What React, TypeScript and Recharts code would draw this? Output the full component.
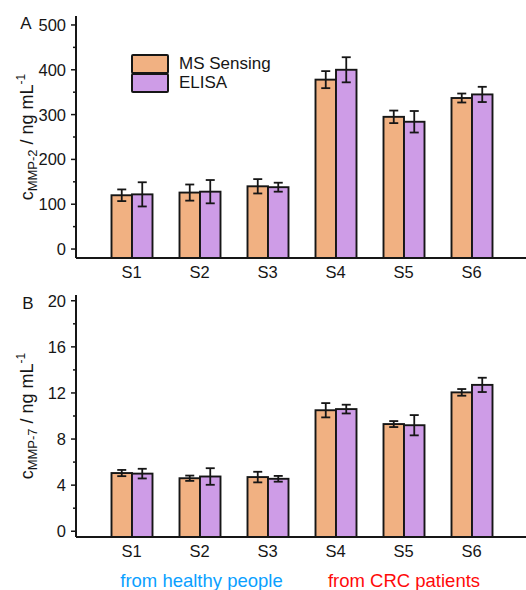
import React from 'react';
import { BarChart, Bar, XAxis, YAxis, ErrorBar, Legend } from 'recharts';

// ---------- data ----------
const categories = ['S1', 'S2', 'S3', 'S4', 'S5', 'S6'];
const seriesNames = ['MS Sensing', 'ELISA'];

const mmp2Ms = [120, 126, 140, 378, 295, 337];
const mmp2MsErr = [13, 18, 16, 19, 14, 10];
const mmp2Elisa = [122, 128, 138, 400, 284, 345];
const mmp2ElisaErr = [27, 26, 10, 28, 24, 17];

const mmp7Ms = [5.05, 4.6, 4.7, 10.5, 9.3, 12.05];
const mmp7MsErr = [0.27, 0.23, 0.46, 0.62, 0.26, 0.29];
const mmp7Elisa = [5.0, 4.75, 4.55, 10.6, 9.2, 12.7];
const mmp7ElisaErr = [0.42, 0.72, 0.25, 0.38, 0.88, 0.62];

const mmp2Ticks = [0, 50, 100, 150, 200, 250, 300, 350, 400, 450, 500];
const mmp2Labels = [0, 100, 200, 300, 400, 500];
const mmp7Ticks = [0, 2, 4, 6, 8, 10, 12, 14, 16, 18, 20];
const mmp7Labels = [0, 4, 8, 12, 16, 20];

const mmp2Domain = [-20, 520];
const mmp7Domain = [-0.5, 20.5];

const groupLabels = ['from healthy people', 'from CRC patients'];

// ---------- styles ----------
const FONT = '"Liberation Sans", Arial, Helvetica, sans-serif';
const ORANGE = '#F1B182';
const PURPLE = '#CE9CE7';
const BLUE = '#0AA0FF';
const RED = '#FF0A0A';
const INK = '#161616';

const buildData = (ms: number[], msErr: number[], el: number[], elErr: number[]) =>
  categories.map((name, i) => ({
    name,
    ms: ms[i],
    msErr: msErr[i],
    elisa: el[i],
    elisaErr: elErr[i],
  }));

const mmp2Data = buildData(mmp2Ms, mmp2MsErr, mmp2Elisa, mmp2ElisaErr);
const mmp7Data = buildData(mmp7Ms, mmp7MsErr, mmp7Elisa, mmp7ElisaErr);

// bar that reaches down to the bottom frame of the plot
const BarShape = (props: any) => {
  const { x, y, width, height, fill, background } = props;
  if (x == null || y == null) return null;
  const bottom = background && background.height ? background.y + background.height : y + height;
  return (
    <rect
      x={x}
      y={y}
      width={width}
      height={Math.max(0, bottom - y)}
      fill={fill}
      stroke={INK}
      strokeWidth={1.9}
    />
  );
};

const makeYTick = (labels: number[]) => (props: any) => {
  const { x, y, payload } = props;
  const v = payload.value;
  const major = labels.includes(v);
  return (
    <g>
      <line x1={x - (major ? 5 : 3)} x2={x} y1={y} y2={y} stroke={INK} strokeWidth={1.5} />
      {major && (
        <text
          x={x - 10}
          y={y}
          dy="0.36em"
          textAnchor="end"
          fontSize={16.5}
          fill={INK}
          fontFamily={FONT}
        >
          {v}
        </text>
      )}
    </g>
  );
};

const YLabel = (props: any) => {
  const { viewBox, sub } = props;
  const cx = 33;
  const cy = viewBox ? viewBox.y + viewBox.height / 2 : 137;
  return (
    <text
      x={cx}
      y={cy}
      transform={`rotate(-90 ${cx} ${cy})`}
      textAnchor="middle"
      fontSize={18}
      fill={INK}
      fontFamily={FONT}
    >
      <tspan>c</tspan>
      <tspan fontSize={13} dy={4}>
        {sub}
      </tspan>
      <tspan dy={-4}> / ng mL</tspan>
      <tspan fontSize={12} dy={-8}>
        -1
      </tspan>
    </text>
  );
};

const renderLegend = (props: any) => {
  const payload = [...(props.payload || [])].sort(
    (a: any, b: any) => seriesNames.indexOf(a.value) - seriesNames.indexOf(b.value)
  );
  return (
    <div style={{ fontFamily: FONT, fontSize: 17, color: INK }}>
      {payload.map((p: any, i: number) => (
        <div
          key={i}
          style={{ display: 'flex', alignItems: 'center', height: 20, marginTop: i ? -1 : 0 }}
        >
          <div
            style={{
              width: 38,
              height: 20,
              boxSizing: 'border-box',
              background: p.color,
              border: `2px solid ${INK}`,
              borderRadius: 2,
            }}
          />
          <span style={{ marginLeft: 10, lineHeight: '20px' }}>{p.value}</span>
        </div>
      ))}
    </div>
  );
};

const CHART_W = 560;
const CHART_H = 291;
const X_PAD = { left: 21.5, right: 54.5 };

type PanelProps = {
  data: any[];
  domain: number[];
  ticks: number[];
  labels: number[];
  sub: string;
  showLegend: boolean;
};

const Panel = ({ data, domain, ticks, labels, sub, showLegend }: PanelProps) => (
  <BarChart
    width={CHART_W}
    height={CHART_H}
    data={data}
    margin={{ top: 16, right: 0, bottom: 0, left: 0 }}
    barGap={0}
  >
    <XAxis
      dataKey="name"
      height={33}
      padding={X_PAD}
      axisLine={{ stroke: INK, strokeWidth: 2 }}
      tickLine={false}
      tickSize={0}
      tickMargin={8}
      interval={0}
      tick={{ fontSize: 16.5, fill: INK, fontFamily: FONT }}
    />
    <XAxis
      xAxisId="top"
      dataKey="name"
      orientation="top"
      height={0}
      padding={X_PAD}
      axisLine={{ stroke: INK, strokeWidth: 2 }}
      tickLine={false}
      tick={false}
    />
    <YAxis
      type="number"
      width={76}
      domain={domain}
      ticks={ticks}
      interval={0}
      allowDataOverflow
      axisLine={{ stroke: INK, strokeWidth: 2 }}
      tickLine={false}
      tickSize={0}
      tickMargin={0}
      tick={makeYTick(labels)}
      label={<YLabel sub={sub} />}
    />
    {showLegend && (
      <Legend
        layout="horizontal"
        verticalAlign="middle"
        align="center"
        content={renderLegend}
        wrapperStyle={{ left: 131, top: 54, width: 'auto', height: 'auto' }}
      />
    )}
    <Bar
      dataKey="ms"
      name={seriesNames[0]}
      fill={ORANGE}
      barSize={20.5}
      shape={<BarShape />}
      isAnimationActive={false}
    >
      <ErrorBar dataKey="msErr" width={4.5} stroke={INK} strokeWidth={1.8} />
    </Bar>
    <Bar
      dataKey="elisa"
      name={seriesNames[1]}
      fill={PURPLE}
      barSize={20.5}
      shape={<BarShape />}
      isAnimationActive={false}
    >
      <ErrorBar dataKey="elisaErr" width={4.5} stroke={INK} strokeWidth={1.8} />
    </Bar>
  </BarChart>
);

export default function App() {
  return (
    <div
      style={{
        position: 'absolute',
        left: 0,
        top: 0,
        width: 526,
        height: 590,
        overflow: 'hidden',
        background: '#fff',
        fontFamily: FONT,
      }}
    >
      <div style={{ position: 'absolute', left: 0, top: 0 }}>
        <Panel
          data={mmp2Data}
          domain={mmp2Domain}
          ticks={mmp2Ticks}
          labels={mmp2Labels}
          sub="MMP-2"
          showLegend
        />
      </div>
      <div style={{ position: 'absolute', left: 0, top: 279 }}>
        <Panel
          data={mmp7Data}
          domain={mmp7Domain}
          ticks={mmp7Ticks}
          labels={mmp7Labels}
          sub="MMP-7"
          showLegend={false}
        />
      </div>
      <svg
        width={526}
        height={590}
        style={{ position: 'absolute', left: 0, top: 0, pointerEvents: 'none' }}
      >
        <text x={26} y={29} textAnchor="middle" fontSize={17} fill={INK} fontFamily={FONT}>
          A
        </text>
        <text x={28} y={309} textAnchor="middle" fontSize={17} fill={INK} fontFamily={FONT}>
          B
        </text>
        <text x={201.5} y={587} textAnchor="middle" fontSize={18.5} fill={BLUE} fontFamily={FONT}>
          {groupLabels[0]}
        </text>
        <text x={404} y={587} textAnchor="middle" fontSize={18.5} fill={RED} fontFamily={FONT}>
          {groupLabels[1]}
        </text>
      </svg>
    </div>
  );
}
